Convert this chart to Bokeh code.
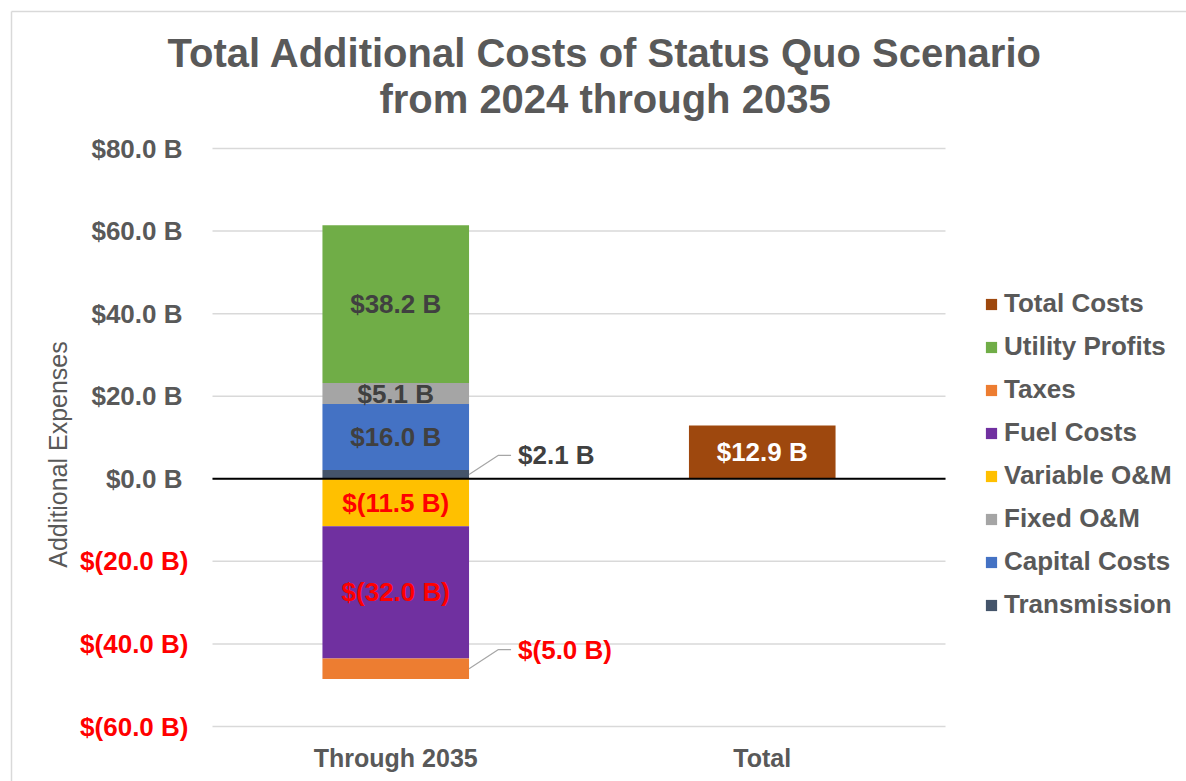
import math
from bokeh.plotting import figure
from bokeh.models import (ColumnDataSource, Range1d, LabelSet, Label, Legend, LegendItem)
from bokeh.core.properties import value
from bokeh.embed import file_html
from bokeh.resources import INLINE

# ---------------- data ----------------
categories = ["Through 2035", "Total"]
positive_series = ["Transmission", "Capital Costs", "Fixed O&M", "Utility Profits"]
positive_values = [2.1, 16.0, 5.1, 38.2]
negative_series = ["Variable O&M", "Fuel Costs", "Taxes"]
negative_values = [-11.5, -32.0, -5.0]
total_series = "Total Costs"
total_value = 12.9
y_ticks = [-60, -40, -20, 0, 20, 40, 60, 80]
y_tick_labels = ["$(60.0 B)", "$(40.0 B)", "$(20.0 B)", "$0.0 B",
                 "$20.0 B", "$40.0 B", "$60.0 B", "$80.0 B"]
legend_order = ["Total Costs", "Utility Profits", "Taxes", "Fuel Costs",
                "Variable O&M", "Fixed O&M", "Capital Costs", "Transmission"]
title_lines = ["Total Additional Costs of Status Quo Scenario", "from 2024 through 2035"]
y_title = "Additional Expenses"
outside_labels = ["Transmission", "Taxes"]

colors = {
    "Transmission": "#44546A", "Capital Costs": "#4472C4", "Fixed O&M": "#A5A5A5",
    "Utility Profits": "#70AD47", "Variable O&M": "#FFC000", "Fuel Costs": "#7030A0",
    "Taxes": "#ED7D31", "Total Costs": "#9E480E",
}
GRAY = "#595959"
DARK = "#404040"
RED = "#FF0000"
FONT = "Liberation Sans"

def fmt(v):
    return "$%.1f B" % v if v >= 0 else "$(%.1f B)" % (-v)

# ---------------- layout (canvas pixels -> data) ----------------
W, H = 1186, 781
Y_MIN, Y_MAX = y_ticks[0], y_ticks[-1]
N = len(categories)
PLOT_L, PLOT_R, PLOT_T, PLOT_B = 212, 945, 148, 726   # pixels of the plot area
SX = (PLOT_R - PLOT_L) / N
SY = (PLOT_B - PLOT_T) / (Y_MAX - Y_MIN)
X0 = -PLOT_L / SX
X1 = X0 + W / SX
Y1 = Y_MAX + PLOT_T / SY
Y0 = Y1 - H / SY

def px2x(X):
    return X0 + X / SX

def px2y(Y):
    return Y1 - Y / SY

p = figure(x_range=Range1d(X0, X1), y_range=Range1d(Y0, Y1), width=W, height=H,
           output_backend="svg", toolbar_location=None,
           x_axis_location=None, y_axis_location=None,
           min_border=0, min_border_left=0, min_border_right=0,
           min_border_top=0, min_border_bottom=0)
p.title.visible = False
p.outline_line_color = None
p.background_fill_color = "white"
p.border_fill_color = "white"
p.grid.visible = False

# chart border (top & left edges visible)
p.line([px2x(11), X1], [px2y(11), px2y(11)], line_color="#D9D9D9", line_width=1.5)
p.line([px2x(11), px2x(11)], [Y0, px2y(11)], line_color="#D9D9D9", line_width=1.5)

# gridlines
p.segment(x0=[0] * len(y_ticks), x1=[N] * len(y_ticks), y0=y_ticks, y1=y_ticks,
          line_color="#D9D9D9", line_width=1.5)

# ---------------- bars ----------------
xpos = [i + 0.5 for i in range(N)]
data = {"x": xpos}
for n, v in zip(positive_series, positive_values):
    data[n] = [v, 0.0]
for n, v in zip(negative_series, negative_values):
    data[n] = [v, 0.0]
data[total_series] = [0.0, total_value]
src = ColumnDataSource(data)

BW = 0.4
renderers = {}
pos_r = p.vbar_stack(positive_series, x="x", width=BW, source=src,
                     color=[colors[n] for n in positive_series], line_color=None)
neg_r = p.vbar_stack(negative_series, x="x", width=BW, source=src,
                     color=[colors[n] for n in negative_series], line_color=None)
tot_r = p.vbar(x="x", top=total_series, bottom=0, width=BW, source=src,
               color=colors[total_series], line_color=None)
for n, r in zip(positive_series, pos_r):
    renderers[n] = r
for n, r in zip(negative_series, neg_r):
    renderers[n] = r
renderers[total_series] = tot_r

# zero line
p.segment(x0=[0], x1=[N], y0=[0], y1=[0], line_color="black", line_width=2)

# ---------------- data labels ----------------
segs = []
acc = 0.0
for n, v in zip(positive_series, positive_values):
    segs.append((n, v, acc + v / 2.0))
    acc += v
acc = 0.0
for n, v in zip(negative_series, negative_values):
    segs.append((n, v, acc + v / 2.0))
    acc += v

lx, ly, lt, lc = [], [], [], []
ox, oy, ot, oc = [], [], [], []
leader_xs, leader_ys = [], []
x_edge = xpos[0] + BW / 2.0
for n, v, c in segs:
    col = RED if v < 0 else DARK
    if n in outside_labels:
        x1 = x_edge + 29 / SX
        x2 = x1 + 13 / SX
        y1 = c + 19 / SY
        leader_xs.append([x_edge, x1, x2])
        leader_ys.append([c, y1, y1])
        ox.append(x2); oy.append(y1); ot.append(fmt(v)); oc.append(col)
    else:
        lx.append(xpos[0]); ly.append(c); lt.append(fmt(v)); lc.append(col)
lx.append(xpos[1]); ly.append(total_value / 2.0); lt.append(fmt(total_value)); lc.append("white")

p.multi_line(leader_xs, leader_ys, line_color="#A6A6A6", line_width=1.2)

inside = ColumnDataSource(dict(x=lx, y=ly, t=lt, c=lc))
p.add_layout(LabelSet(x="x", y="y", text="t", source=inside, text_color="c",
                      text_align="center", text_baseline="middle",
                      text_font=value(FONT), text_font_size="26px", text_font_style="bold"))
outside = ColumnDataSource(dict(x=ox, y=oy, t=ot, c=oc))
p.add_layout(LabelSet(x="x", y="y", text="t", source=outside, text_color="c",
                      x_offset=7, text_align="left", text_baseline="middle",
                      text_font=value(FONT), text_font_size="26px", text_font_style="bold"))

# ---------------- y tick labels ----------------
tick_src = ColumnDataSource(dict(
    x=[0.0] * len(y_ticks), y=y_ticks, t=y_tick_labels,
    c=[RED if v < 0 else GRAY for v in y_ticks],
    off=[-24 if v < 0 else -30 for v in y_ticks]))
p.add_layout(LabelSet(x="x", y="y", text="t", source=tick_src, text_color="c",
                      x_offset="off", text_align="right", text_baseline="middle",
                      text_font=value(FONT), text_font_size="26px", text_font_style="bold"))

# ---------------- category labels ----------------
cat_src = ColumnDataSource(dict(x=xpos, y=[px2y(757)] * N, t=categories))
p.add_layout(LabelSet(x="x", y="y", text="t", source=cat_src, text_color=GRAY,
                      text_align="center", text_baseline="middle",
                      text_font=value(FONT), text_font_size="25px", text_font_style="bold"))

# ---------------- axis title & chart title ----------------
p.add_layout(Label(x=px2x(57), y=px2y(454), text=y_title,
                   angle=math.pi / 2, text_align="center", text_baseline="middle",
                   text_font=FONT, text_font_size="25px", text_color=GRAY))
tx = px2x(604.5)
p.add_layout(Label(x=tx, y=px2y(52), text=title_lines[0],
                   text_align="center", text_baseline="middle",
                   text_font=FONT, text_font_size="40px", text_font_style="bold",
                   text_color=GRAY))
p.add_layout(Label(x=tx, y=px2y(98), text=title_lines[1],
                   text_align="center", text_baseline="middle",
                   text_font=FONT, text_font_size="40px", text_font_style="bold",
                   text_color=GRAY))

# ---------------- legend ----------------
items = [LegendItem(label=n, renderers=[renderers[n]]) for n in legend_order]
legend = Legend(items=items, location=(984, H - 620), orientation="vertical",
                glyph_width=14, glyph_height=14, label_height=30, spacing=12,
                label_standoff=6, padding=0, margin=0,
                border_line_color=None, background_fill_alpha=0,
                label_text_font=FONT, label_text_font_size="26px",
                label_text_font_style="bold", label_text_color=GRAY)
p.add_layout(legend)

open("out.html", "w").write(file_html(p, INLINE))
